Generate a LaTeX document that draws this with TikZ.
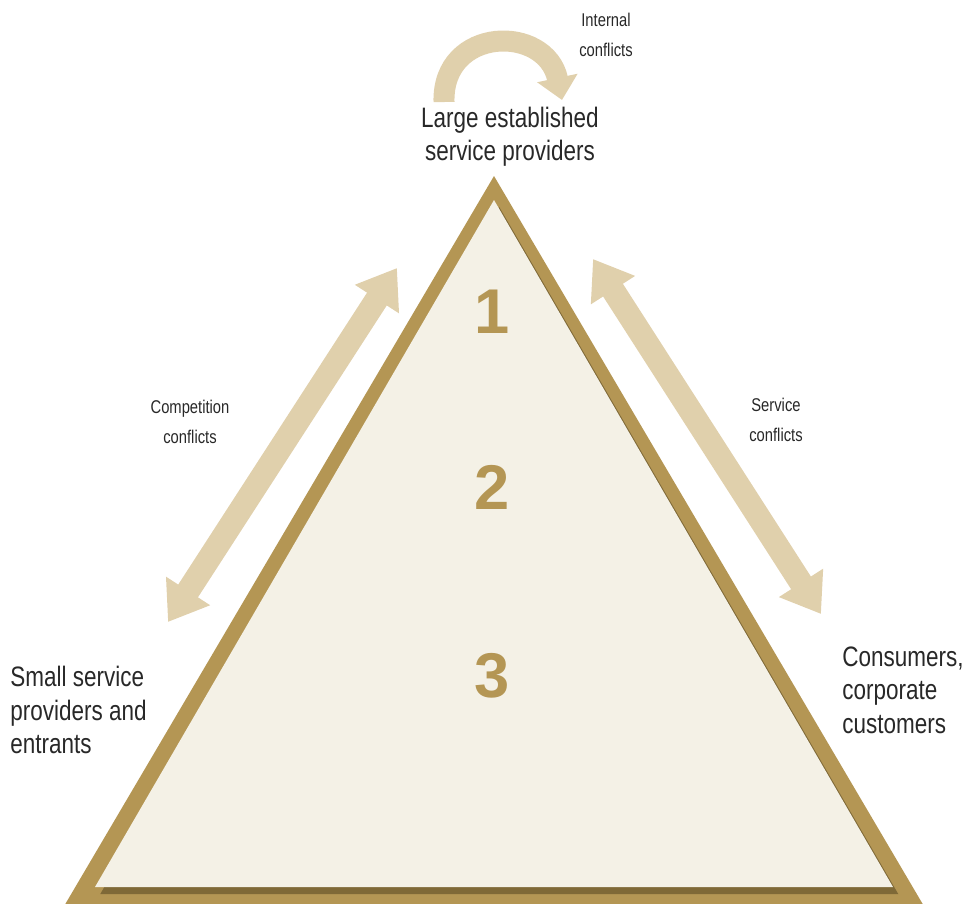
\documentclass[tikz,border=0pt]{standalone}
\usepackage{fontspec}
\setmainfont[FakeStretch=0.8]{Liberation Sans}
\newfontfamily\levelfont{Liberation Sans}
\usetikzlibrary{arrows.meta}
\usetikzlibrary{shadows}
\usetikzlibrary{positioning}
\definecolor{gold}{RGB}{180,150,84}
\definecolor{golddark}{RGB}{105,86,44}
\definecolor{cream}{RGB}{244,241,230}
\definecolor{sand}{RGB}{224,208,172}
\definecolor{ink}{RGB}{40,40,40}
\newcommand\shaftwidth{0.47cm}
\tikzset{
    conflict/.style={draw=sand, line width=\shaftwidth, {Triangle[length=0.74cm,width=1.0cm]}-{Triangle[length=0.74cm,width=1.0cm]}},
    party/.style={font=\fontsize{16}{19}\selectfont, text=ink, align=left, inner sep=0pt},
    conflictlabel/.style={font=\fontsize{10.5}{17}\selectfont, text=ink, align=center, inner sep=0pt},
    level/.style={font=\levelfont\fontsize{36}{40}\selectfont\bfseries, text=gold, inner sep=0pt, on grid},
}

\begin{document}
\begin{tikzpicture}[x=0.02cm,y=-0.02cm]
    \useasboundingbox (0,0) rectangle (970,903);
    \clip (0,0) rectangle (970,903);
    % pyramid
    \fill[gold] (494,176) -- (50,930) -- (938,930) -- cycle;
    \fill[cream, drop shadow={shadow xshift=3pt, shadow yshift=-4pt, fill=golddark, opacity=.7}]
        (494,200) -- (95,887) -- (893,887) -- cycle;
    % levels
    \node[level] (l1) at (492,312) {1};
    \node[level] (l2) [below=3.5cm of l1] {2};
    \node[level] (l3) [below=3.78cm of l2] {3};
    % parties
    \node[party, align=center] (large) at (510,137) {Large established\\service providers};
    \node[party, anchor=west] (small) at (10,710) {Small service\\providers and\\entrants};
    \node[party, anchor=west] (cons) at (842,690) {Consumers,\\corporate\\customers};
    % conflicts
    \coordinate (compA) at (168,622);
    \coordinate (compB) at (397,268);
    \coordinate (servA) at (593,259);
    \coordinate (servB) at (821,614);
    \coordinate (intA) at (444,102);
    \coordinate (intB) at (562,100);
    \draw[conflict] (compA) -- (compB);
    \draw[conflict] (servA) -- (servB);
    \draw[sand, line width=0.42cm, -{Triangle[length=0.45cm,width=0.8cm]}]
        (intA) .. controls (442,26) and (546,24) .. (intB);
    \node[conflictlabel] (comp) at (190,422) {Competition\\conflicts};
    \node[conflictlabel] (serv) at (776,420) {Service\\conflicts};
    \node[conflictlabel] (int) at (606,35) {Internal\\conflicts};
\end{tikzpicture}
\end{document}
